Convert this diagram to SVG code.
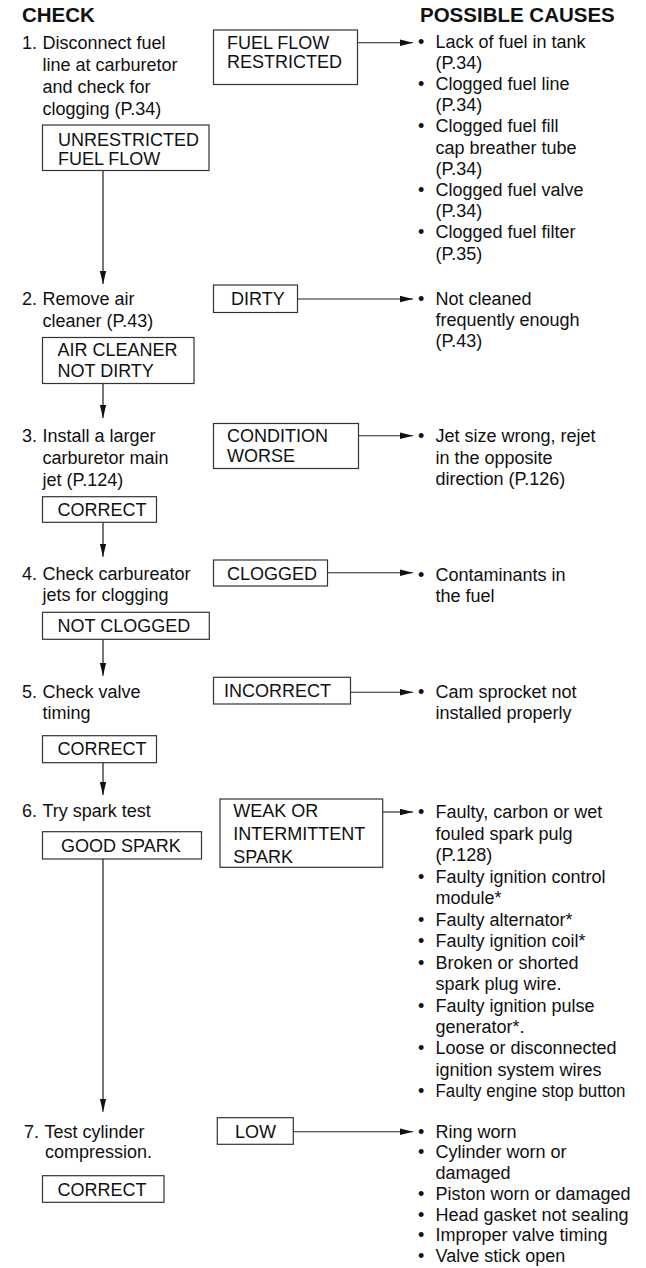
<svg xmlns="http://www.w3.org/2000/svg" width="646" height="1268" viewBox="0 0 646 1268">
<style>
text{font-family:"Liberation Sans",Arial,Helvetica,sans-serif;font-size:18px;fill:#111}
.h{font-weight:bold;font-size:20.5px}
.box{fill:#fff;stroke:#333;stroke-width:1.2}
.v{stroke:#555;stroke-width:1.6;fill:none}
.hz{stroke:#222;stroke-width:1.1;fill:none}
</style>
<defs>
<marker id="ah" markerUnits="userSpaceOnUse" markerWidth="13" markerHeight="7" refX="13" refY="3.5" orient="auto">
<path d="M0,0.3 L13,3.5 L0,6.7 z" fill="#111"/>
</marker>
</defs>
<rect width="646" height="1268" fill="#fff"/>

<g id="headers">
<text class="h" x="22" y="21.5">CHECK</text>
<text class="h" x="420" y="21.7">POSSIBLE CAUSES</text>
</g>

<g id="connectors">
<line class="v" x1="103" y1="170.5" x2="103" y2="284" marker-end="url(#ah)"/>
<line class="v" x1="103" y1="383.5" x2="103" y2="418" marker-end="url(#ah)"/>
<line class="v" x1="103" y1="522.3" x2="103" y2="556.7" marker-end="url(#ah)"/>
<line class="v" x1="103" y1="639.3" x2="103" y2="675.7" marker-end="url(#ah)"/>
<line class="v" x1="103" y1="762.7" x2="103" y2="795" marker-end="url(#ah)"/>
<line class="v" x1="103" y1="859" x2="103" y2="1111.7" marker-end="url(#ah)"/>
<line class="hz" x1="357.5" y1="42.7" x2="413" y2="42.7" marker-end="url(#ah)"/>
<line class="hz" x1="297.5" y1="299" x2="413" y2="299" marker-end="url(#ah)"/>
<line class="hz" x1="358.5" y1="435.7" x2="413" y2="435.7" marker-end="url(#ah)"/>
<line class="hz" x1="327.5" y1="572.7" x2="413" y2="572.7" marker-end="url(#ah)"/>
<line class="hz" x1="350.7" y1="692.3" x2="413" y2="692.3" marker-end="url(#ah)"/>
<line class="hz" x1="382.7" y1="812" x2="413" y2="812" marker-end="url(#ah)"/>
<line class="hz" x1="293.3" y1="1131.7" x2="413" y2="1131.7" marker-end="url(#ah)"/>
</g>

<g id="check-1">
<text x="22" y="49">1.</text>
<text x="42.5" y="49">Disconnect fuel</text>
<text x="42.5" y="71">line at carburetor</text>
<text x="42.5" y="93">and check for</text>
<text x="42.5" y="115">clogging (P.34)</text>
</g>
<g id="ok-1">
<rect class="box" x="42.5" y="125" width="166.5" height="45.5"/>
<text x="58" y="145.5">UNRESTRICTED</text>
<text x="58" y="164.5">FUEL FLOW</text>
</g>
<g id="fail-1">
<rect class="box" x="213.5" y="30" width="144" height="54.5"/>
<text x="227" y="49">FUEL FLOW</text>
<text x="227" y="68">RESTRICTED</text>
</g>
<g id="causes-1">
<text x="418" y="47.5">•</text><text x="435.5" y="47.5">Lack of fuel in tank</text>
<text x="435.5" y="68.7">(P.34)</text>
<text x="418" y="89.9">•</text><text x="435.5" y="89.9">Clogged fuel line</text>
<text x="435.5" y="111.1">(P.34)</text>
<text x="418" y="132.3">•</text><text x="435.5" y="132.3">Clogged fuel fill</text>
<text x="435.5" y="153.5">cap breather tube</text>
<text x="435.5" y="174.7">(P.34)</text>
<text x="418" y="195.9">•</text><text x="435.5" y="195.9">Clogged fuel valve</text>
<text x="435.5" y="217.1">(P.34)</text>
<text x="418" y="238.3">•</text><text x="435.5" y="238.3">Clogged fuel filter</text>
<text x="435.5" y="259.5">(P.35)</text>
</g>

<g id="check-2">
<text x="22" y="305">2.</text>
<text x="42.5" y="305">Remove air</text>
<text x="42.5" y="326.5">cleaner (P.43)</text>
</g>
<g id="ok-2">
<rect class="box" x="42.5" y="337.5" width="151.5" height="46"/>
<text x="57.5" y="356">AIR CLEANER</text>
<text x="57.5" y="376.5">NOT DIRTY</text>
</g>
<g id="fail-2">
<rect class="box" x="213.5" y="285" width="84" height="27.5"/>
<text x="231" y="305">DIRTY</text>
</g>
<g id="causes-2">
<text x="418" y="305">•</text><text x="435.5" y="305">Not cleaned</text>
<text x="435.5" y="326">frequently enough</text>
<text x="435.5" y="347">(P.43)</text>
</g>

<g id="check-3">
<text x="22" y="442.3">3.</text>
<text x="42.5" y="442.3">Install a larger</text>
<text x="42.5" y="464">carburetor main</text>
<text x="42.5" y="485.7">jet (P.124)</text>
</g>
<g id="ok-3">
<rect class="box" x="42.5" y="496.7" width="114" height="25.6"/>
<text x="57.5" y="515.7">CORRECT</text>
</g>
<g id="fail-3">
<rect class="box" x="213.5" y="423.5" width="145" height="45"/>
<text x="227" y="442.3">CONDITION</text>
<text x="227" y="461.7">WORSE</text>
</g>
<g id="causes-3">
<text x="418" y="442.3">•</text><text x="435.5" y="442.3">Jet size wrong, rejet</text>
<text x="435.5" y="463.5">in the opposite</text>
<text x="435.5" y="484.7">direction (P.126)</text>
</g>

<g id="check-4">
<text x="22" y="580">4.</text>
<text x="42.5" y="580">Check carbureator</text>
<text x="42.5" y="600.5">jets for clogging</text>
</g>
<g id="ok-4">
<rect class="box" x="42.5" y="612.3" width="166.8" height="27"/>
<text x="57.5" y="631.7">NOT CLOGGED</text>
</g>
<g id="fail-4">
<rect class="box" x="213.5" y="560" width="114" height="26"/>
<text x="227" y="580">CLOGGED</text>
</g>
<g id="causes-4">
<text x="418" y="581">•</text><text x="435.5" y="581">Contaminants in</text>
<text x="435.5" y="602">the fuel</text>
</g>

<g id="check-5">
<text x="22" y="697.7">5.</text>
<text x="42.5" y="697.7">Check valve</text>
<text x="42.5" y="718.5">timing</text>
</g>
<g id="ok-5">
<rect class="box" x="42.5" y="735.7" width="114" height="27"/>
<text x="57.5" y="755">CORRECT</text>
</g>
<g id="fail-5">
<rect class="box" x="213.5" y="677.3" width="137" height="26.7"/>
<text x="224" y="696.7">INCORRECT</text>
</g>
<g id="causes-5">
<text x="418" y="698">•</text><text x="435.5" y="698">Cam sprocket not</text>
<text x="435.5" y="719">installed properly</text>
</g>

<g id="check-6">
<text x="22" y="817.3">6.</text>
<text x="42.5" y="817.3">Try spark test</text>
</g>
<g id="ok-6">
<rect class="box" x="42.5" y="831.7" width="159" height="27.3"/>
<text x="61" y="851.7">GOOD SPARK</text>
</g>
<g id="fail-6">
<rect class="box" x="220" y="799" width="162.7" height="68.3"/>
<text x="233.3" y="817">WEAK OR</text>
<text x="233.3" y="840">INTERMITTENT</text>
<text x="233.3" y="863">SPARK</text>
</g>
<g id="causes-6">
<text x="418" y="818.3">•</text><text x="435.5" y="818.3">Faulty, carbon or wet</text>
<text x="435.5" y="839.8">fouled spark pulg</text>
<text x="435.5" y="861.2">(P.128)</text>
<text x="418" y="882.7">•</text><text x="435.5" y="882.7">Faulty ignition control</text>
<text x="435.5" y="904.1">module*</text>
<text x="418" y="925.6">•</text><text x="435.5" y="925.6">Faulty alternator*</text>
<text x="418" y="947.1">•</text><text x="435.5" y="947.1">Faulty ignition coil*</text>
<text x="418" y="968.5">•</text><text x="435.5" y="968.5">Broken or shorted</text>
<text x="435.5" y="990">spark plug wire.</text>
<text x="418" y="1011.5">•</text><text x="435.5" y="1011.5">Faulty ignition pulse</text>
<text x="435.5" y="1032.9">generator*.</text>
<text x="418" y="1054.4">•</text><text x="435.5" y="1054.4">Loose or disconnected</text>
<text x="435.5" y="1075.8">ignition system wires</text>
<text x="418" y="1097.3">•</text><text x="435.5" y="1097.3" textLength="190" lengthAdjust="spacingAndGlyphs">Faulty engine stop button</text>
</g>

<g id="check-7">
<text x="24" y="1138.3">7.</text>
<text x="44.5" y="1138.3">Test cylinder</text>
<text x="45" y="1158.3">compression.</text>
</g>
<g id="ok-7">
<rect class="box" x="42.5" y="1175.7" width="121.5" height="26.6"/>
<text x="57.5" y="1195.7">CORRECT</text>
</g>
<g id="fail-7">
<rect class="box" x="217.3" y="1117.7" width="76" height="26.6"/>
<text x="235" y="1137.7">LOW</text>
</g>
<g id="causes-7">
<text x="418" y="1137.5">•</text><text x="435.5" y="1137.5">Ring worn</text>
<text x="418" y="1158.2">•</text><text x="435.5" y="1158.2">Cylinder worn or</text>
<text x="435.5" y="1179">damaged</text>
<text x="418" y="1199.7">•</text><text x="435.5" y="1199.7">Piston worn or damaged</text>
<text x="418" y="1220.5">•</text><text x="435.5" y="1220.5">Head gasket not sealing</text>
<text x="418" y="1241.2">•</text><text x="435.5" y="1241.2">Improper valve timing</text>
<text x="418" y="1262">•</text><text x="435.5" y="1262">Valve stick open</text>
</g>
</svg>
